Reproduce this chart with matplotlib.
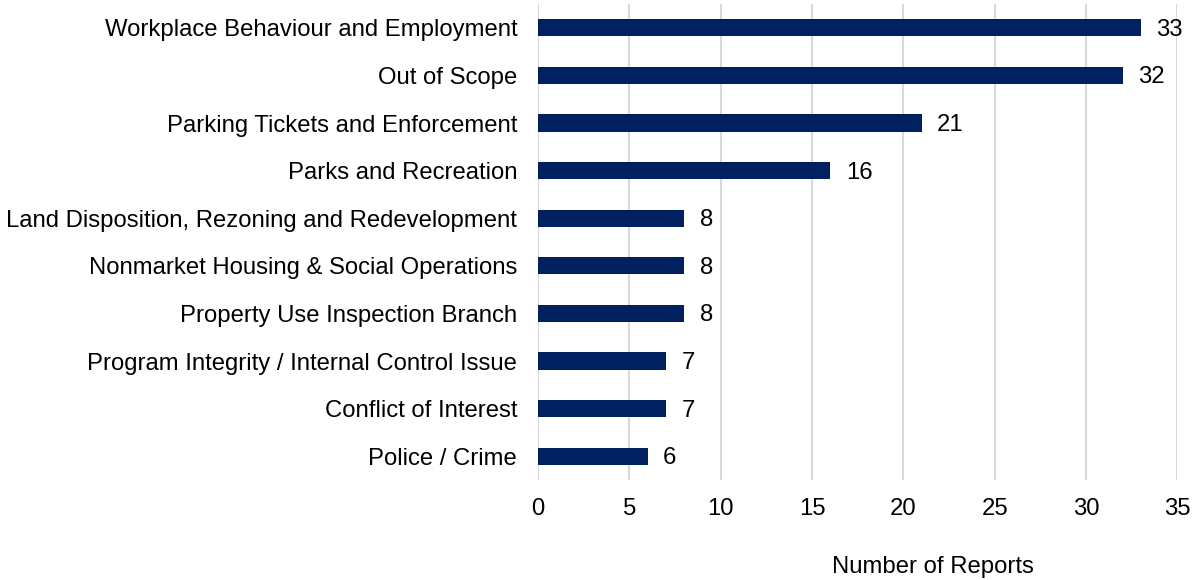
import matplotlib
matplotlib.use("Agg")
import matplotlib.pyplot as plt

categories = [
    "Workplace Behaviour and Employment",
    "Out of Scope",
    "Parking Tickets and Enforcement",
    "Parks and Recreation",
    "Land Disposition, Rezoning and Redevelopment",
    "Nonmarket Housing & Social Operations",
    "Property Use Inspection Branch",
    "Program Integrity / Internal Control Issue",
    "Conflict of Interest",
    "Police / Crime",
]
reports = [33, 32, 21, 16, 8, 8, 8, 7, 7, 6]
x_ticks = [0, 5, 10, 15, 20, 25, 30, 35]

plt.rcParams["font.family"] = ["Liberation Sans", "DejaVu Sans"]
FS = 17.2

fig = plt.figure(figsize=(11.93, 5.8), dpi=100)
ax = fig.add_axes([0.451, 0.1724, 0.536, 0.8206])

bar_color = "#002060"
ypos = list(range(len(categories)))
ax.barh(ypos, reports, height=0.36, color=bar_color, zorder=3)

for y, v in zip(ypos, reports):
    ax.text(v + 0.85, y + 0.04, str(v), va="center", ha="left", fontsize=FS, color="#000000")

ax.set_xlim(0, 35)
ax.set_ylim(len(categories) - 0.5, -0.5)
ax.set_xticks(x_ticks)
ax.set_xticklabels([str(t) for t in x_ticks], fontsize=FS)
ax.set_yticks(ypos)
ax.set_yticklabels(categories, fontsize=FS)
ax.tick_params(axis="both", length=0)
ax.tick_params(axis="x", pad=13)
ax.tick_params(axis="y", pad=15)

ax.grid(axis="x", color="#D9D9D9", linewidth=1.5, zorder=0)
for s in ax.spines.values():
    s.set_visible(False)

fig.text(933 / 1193, 1 - 567 / 580, "Number of Reports", ha="center", va="center", fontsize=FS)

fig.savefig("out.png", dpi=100, facecolor="white")
